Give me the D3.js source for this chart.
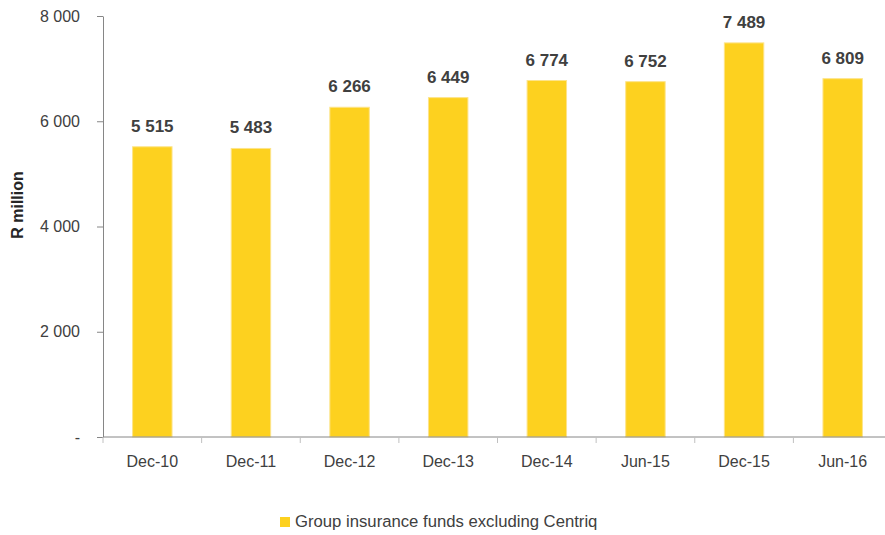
<!DOCTYPE html>
<html>
<head>
<meta charset="utf-8">
<style>
  body { margin: 0; background: #fff; }
  text { font-family: "Liberation Sans", Arial, sans-serif; }
</style>
</head>
<body>
<script src="https://cdn.jsdelivr.net/npm/d3@7"></script>
<div id="chart"></div>
<script>
var width = 885;
var height = 535;

var periods = ["Dec-10", "Dec-11", "Dec-12", "Dec-13", "Dec-14", "Jun-15", "Dec-15", "Jun-16"];
var funds = [5515, 5483, 6266, 6449, 6774, 6752, 7489, 6809];
var yTicks = [0, 2000, 4000, 6000, 8000];
var seriesName = "Group insurance funds excluding Centriq";

var plotLeft = 103, plotRight = 892, plotTop = 16, plotBottom = 437;

var svg = d3.select("#chart")
	.append("svg")
	.attr("width", width)
	.attr("height", height);

var x = d3.scaleBand()
	.domain(periods)
	.range([plotLeft, plotRight])
	.paddingInner(0.6)
	.paddingOuter(0.3);

var y = d3.scaleLinear()
	.domain([0, 8000])
	.range([plotBottom, plotTop]);

var fmt = function (v) {
	if (v === 0) return "-";
	return d3.format(",")(v).replace(/,/g, " ");
};

// bars
svg.append("g")
	.selectAll("rect")
	.data(funds)
	.enter()
	.append("rect")
	.attr("x", function (d, i) { return x(periods[i]); })
	.attr("y", function (d) { return y(d); })
	.attr("width", x.bandwidth())
	.attr("height", function (d) { return y(0) - y(d); })
	.attr("fill", "#fdd11f")
	.attr("stroke", "#fde48a")
	.attr("stroke-width", 1);

// value labels
svg.append("g")
	.selectAll("text")
	.data(funds)
	.enter()
	.append("text")
	.attr("x", function (d, i) { return x(periods[i]) + x.bandwidth() / 2; })
	.attr("y", function (d) { return y(d) - 15; })
	.attr("text-anchor", "middle")
	.attr("font-size", 17)
	.attr("font-weight", "bold")
	.attr("fill", "#404040")
	.text(fmt);

// y axis
var yAxis = svg.append("g")
	.attr("transform", "translate(" + plotLeft + ",0)")
	.call(d3.axisLeft(y).tickValues(yTicks).tickFormat(fmt).tickSize(6).tickSizeOuter(0).tickPadding(17));
yAxis.select(".domain").attr("stroke", "#868686");
yAxis.selectAll(".tick line").attr("stroke", "#868686");
yAxis.selectAll(".tick text")
	.attr("font-size", 16)
	.attr("fill", "#404040")
	.style("font-family", "Liberation Sans, Arial, sans-serif");

// x axis with ticks between categories
var xAxis = svg.append("g")
	.attr("transform", "translate(0," + plotBottom + ")");
xAxis.append("line")
	.attr("x1", plotLeft).attr("x2", width)
	.attr("stroke", "#868686");
xAxis.selectAll(".sep")
	.data(periods)
	.enter()
	.append("line")
	.attr("class", "sep")
	.attr("x1", function (d) { return x(d) - x.step() * x.paddingInner() / 2; })
	.attr("x2", function (d) { return x(d) - x.step() * x.paddingInner() / 2; })
	.attr("y1", 0).attr("y2", 6)
	.attr("stroke", "#c0c0c0");
xAxis.selectAll(".lbl")
	.data(periods)
	.enter()
	.append("text")
	.attr("class", "lbl")
	.attr("x", function (d) { return x(d) + x.bandwidth() / 2; })
	.attr("y", 30)
	.attr("text-anchor", "middle")
	.attr("font-size", 16)
	.attr("fill", "#404040")
	.text(function (d) { return d; });

// y title
svg.append("text")
	.attr("transform", "translate(23,205) rotate(-90)")
	.attr("text-anchor", "middle")
	.attr("font-size", 16)
	.attr("font-weight", "bold")
	.attr("fill", "#262626")
	.text("R million");

// legend
var legend = svg.append("g").attr("transform", "translate(280,517)");
legend.append("rect")
	.attr("width", 10).attr("height", 10)
	.attr("fill", "#fdd11f");
legend.append("text")
	.attr("x", 15).attr("y", 10)
	.attr("font-size", 16.7)
	.attr("fill", "#404040")
	.text(seriesName);
</script>
</body>
</html>
